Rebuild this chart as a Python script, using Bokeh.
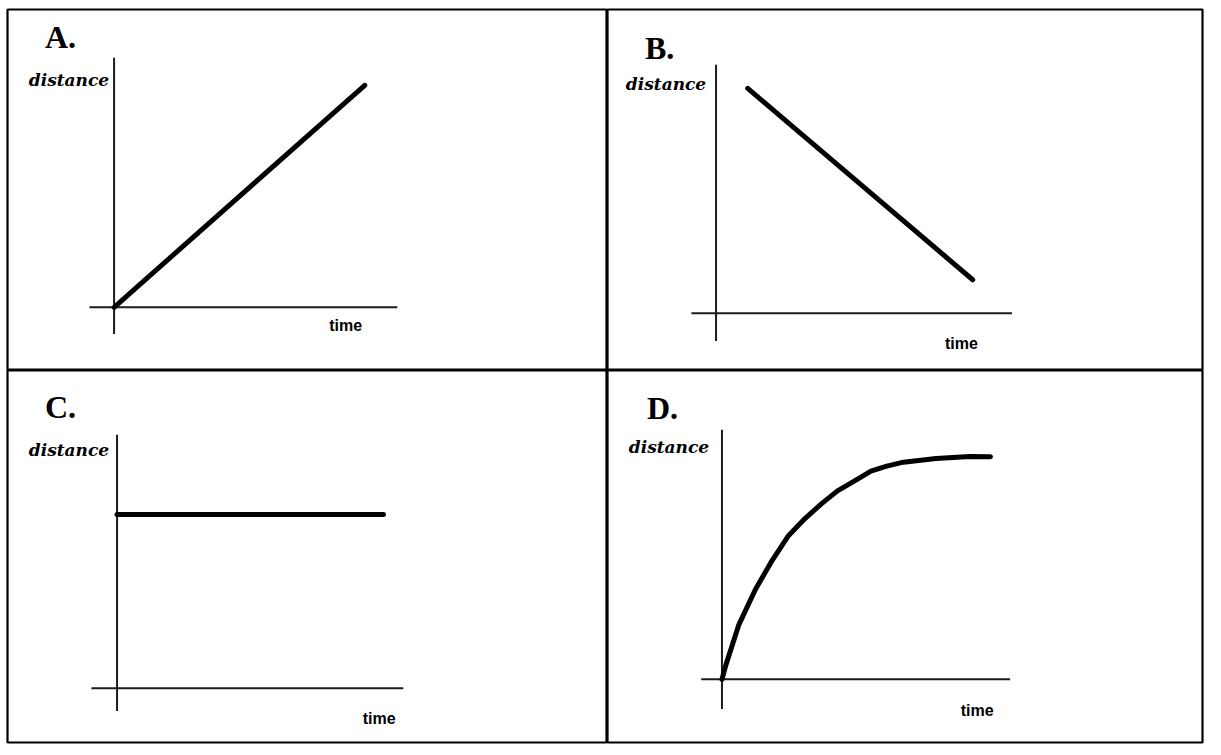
from bokeh.plotting import figure
from bokeh.models import Range1d, Label
from bokeh.layouts import column, row
from bokeh.embed import file_html
from bokeh.resources import INLINE

# ---------------- data (time / distance in arbitrary units, axes run 0..10) ----------------
panel_letters = ["A.", "B.", "C.", "D."]
x_label = "time"
y_label = "distance"

time_a = [0.0, 8.85]
dist_a = [0.0, 8.9]

time_b = [1.07, 8.67]
dist_b = [9.05, 1.35]

time_c = [0.0, 9.31]
dist_c = [6.85, 6.85]

time_d = [0.0, 0.14, 0.58, 1.16, 1.75, 2.29, 2.88, 3.46, 4.01, 4.59, 5.17, 5.72, 6.30, 7.43, 8.60, 9.32]
dist_d = [0.0, 0.59, 2.17, 3.60, 4.78, 5.73, 6.44, 7.04, 7.55, 7.94, 8.34, 8.54, 8.70, 8.85, 8.93, 8.92]

AXIS_MAX = 10.0

# ---------------- layout: geometry in reference-picture pixels ----------------
# figure canvas sizes (page px) and the white margin around the table
fig_geo = [
    dict(width=607, height=370, left=7, right=0, top=9, bottom=0),
    dict(width=598, height=370, left=0, right=3, top=9, bottom=0),
    dict(width=607, height=375, left=7, right=0, top=0, bottom=3),
    dict(width=598, height=375, left=0, right=3, top=0, bottom=3),
]
layouts = [
    dict(cell=(7, 9, 615, 375), origin=(115, 311), x_end=402, y_top=58, x_left=90, y_bottom=338,
         letter=(45, 37), dist=(110, 80), time=(333, 329)),
    dict(cell=(615, 9, 1218, 375), origin=(725, 317), x_end=1025, y_top=65, x_left=700, y_bottom=345,
         letter=(653, 48), dist=(715, 85), time=(957, 348)),
    dict(cell=(7, 375, 615, 752), origin=(118, 697), x_end=408, y_top=440, x_left=92, y_bottom=720,
         letter=(45, 412), dist=(110, 456), time=(367, 728)),
    dict(cell=(615, 375, 1218, 752), origin=(731, 688), x_end=1023, y_top=435, x_left=710, y_bottom=718,
         letter=(655, 413), dist=(718, 453), time=(973, 720)),
]

series = [(time_a, dist_a), (time_b, dist_b), (time_c, dist_c), (time_d, dist_d)]


def make_panel(letter, xs, ys, lay, geo):
    fx0, fy0, fx1, fy1 = lay["cell"]
    ox, oy = lay["origin"]
    sx = (lay["x_end"] - ox) / AXIS_MAX
    sy = (oy - lay["y_top"]) / AXIS_MAX

    def dx(px):
        return (px - ox) / sx

    def dy(py):
        return (oy - py) / sy

    p = figure(width=geo["width"], height=geo["height"],
               x_range=Range1d(dx(fx0), dx(fx1)), y_range=Range1d(dy(fy1), dy(fy0)),
               x_axis_type=None, y_axis_type=None, toolbar_location=None,
               output_backend="svg", title=None,
               min_border_left=geo["left"], min_border_right=geo["right"],
               min_border_top=geo["top"], min_border_bottom=geo["bottom"])
    p.outline_line_color = "black"
    p.outline_line_width = 2.2
    p.background_fill_color = "white"
    p.border_fill_color = "white"

    # crossing axes, drawn as plain lines
    p.segment(x0=[dx(lay["x_left"]), 0.0], y0=[0.0, dy(lay["y_bottom"])],
              x1=[AXIS_MAX, 0.0], y1=[0.0, AXIS_MAX],
              line_color="#1c1c1c", line_width=2)

    # the distance-time curve
    p.line(xs, ys, line_color="black", line_width=5, line_cap="round", line_join="round")

    def put(pos, text, align, font, size, style):
        p.add_layout(Label(x=dx(pos[0]), y=dy(pos[1]), text=text, text_align=align,
                           text_baseline="alphabetic", text_font=font, text_font_size=size,
                           text_font_style=style, text_color="black"))

    put(lay["letter"], letter, "left", "Liberation Serif", "32px", "bold")
    put(lay["dist"], y_label, "right", "DejaVu Serif", "17px", "bold italic")
    put(lay["time"], x_label, "left", "Liberation Sans", "16px", "bold")
    return p


panels = [make_panel(l, s[0], s[1], lay, g)
          for l, s, lay, g in zip(panel_letters, series, layouts, fig_geo)]

layout = column(row(panels[0], panels[1], spacing=0),
                row(panels[2], panels[3], spacing=0), spacing=0)

open("out.html", "w").write(file_html(layout, INLINE))
